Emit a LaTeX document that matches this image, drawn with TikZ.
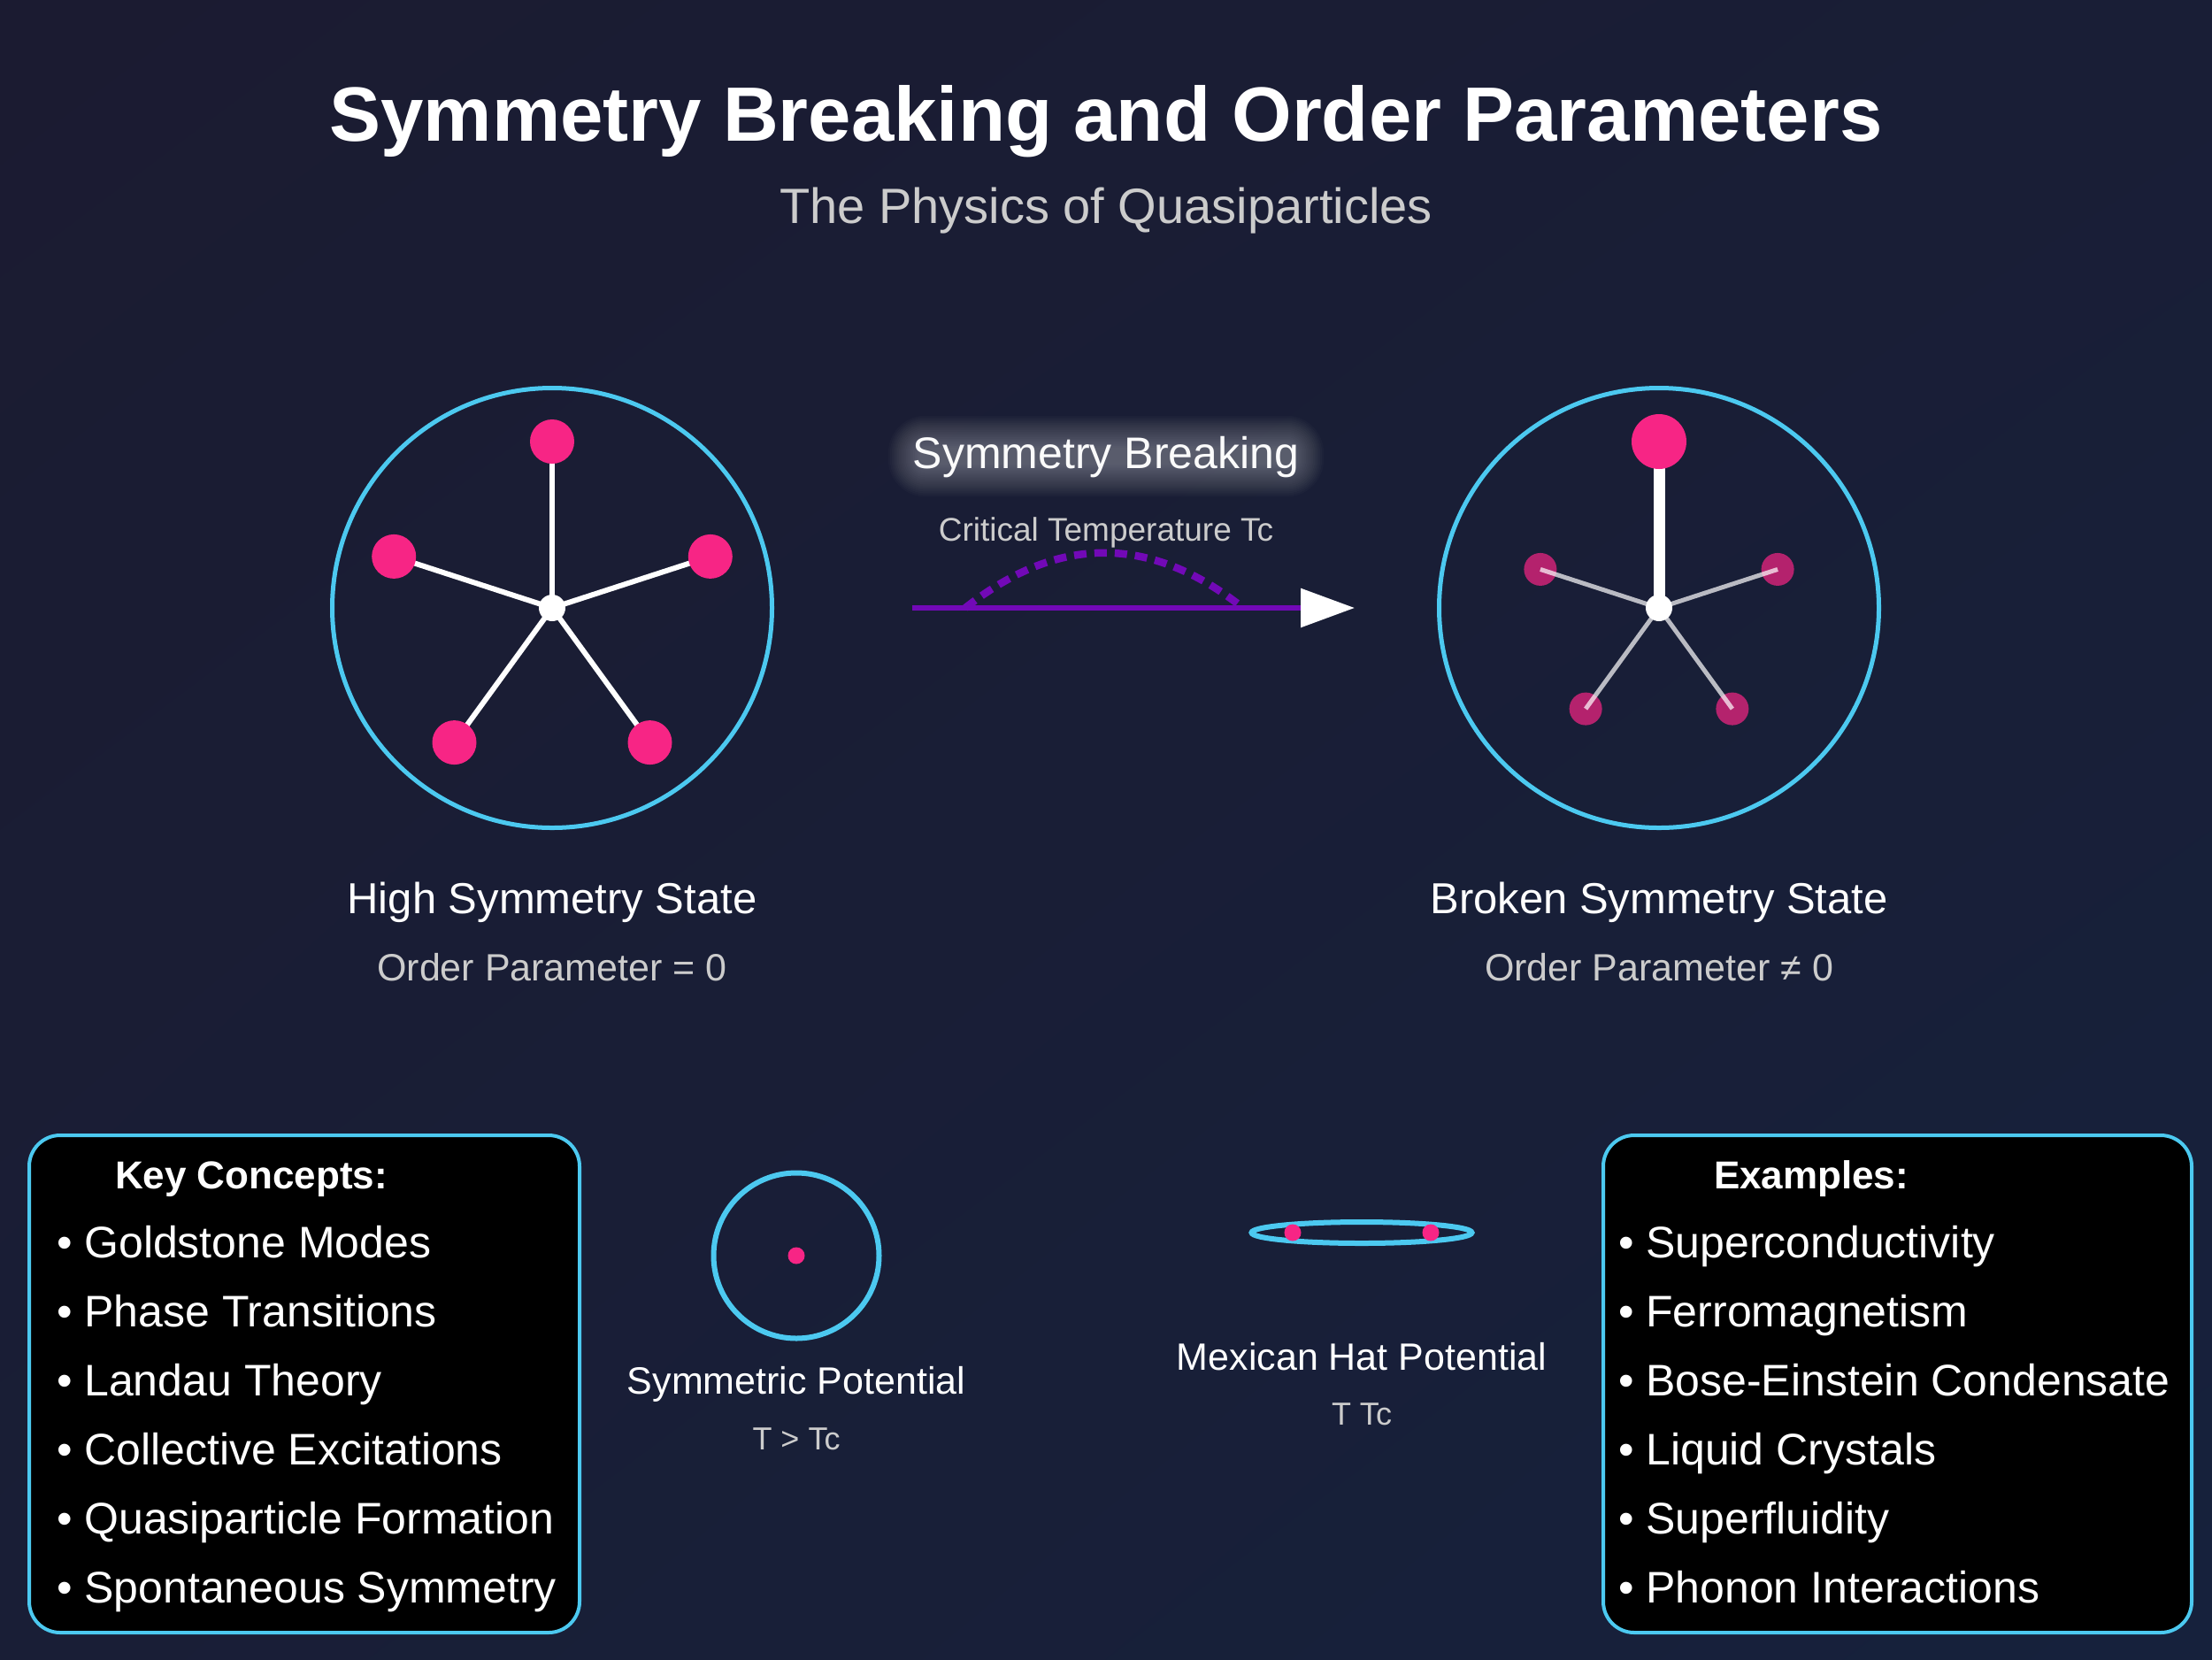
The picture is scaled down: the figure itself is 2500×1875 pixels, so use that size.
\documentclass[tikz,border=0pt]{standalone}
\usepackage{fontspec}
\setmainfont{Liberation Sans}
\usetikzlibrary{arrows.meta,shapes.geometric,shadings}
\definecolor{bgA}{HTML}{1B1B31}
\definecolor{bgM}{HTML}{191E36}
\definecolor{bgB}{HTML}{16213C}
\definecolor{cyanc}{HTML}{4CC9F0}
\definecolor{pinkc}{HTML}{F72585}
\definecolor{purp}{HTML}{7209B7}
\definecolor{lgray}{HTML}{CCCCCC}
\pgfdeclarelayer{bg}
\pgfdeclarelayer{back}
\pgfdeclarelayer{front}
\pgfsetlayers{bg,back,main,front}
\newcommand\fsz[1]{\fontsize{#1}{#1}\selectfont}
\begin{document}
\begin{tikzpicture}[x=1pt,y=-1pt,
  txt/.style={inner sep=0pt, outer sep=0pt, anchor=base, text=white},
  ring/.style={circle, draw=cyanc, line width=5pt, inner sep=0pt},
  pdot/.style={circle, fill=pinkc, inner sep=0pt},
  wdot/.style={circle, fill=white, inner sep=0pt, minimum size=30pt},
  spoke/.style={white, line width=6pt},
  tspoke/.style={white, opacity=0.7, line width=5pt},
  infobox/.style={draw=cyanc, line width=4pt, fill=black, rounded corners=35pt, inner sep=0pt, anchor=north west},
  item/.style={txt, anchor=base west, font=\fsz{50}},
  head/.style={txt, anchor=base west, font=\bfseries\fsz{44}},
  lab/.style={txt, font=\fsz{49}},
  sublab/.style={txt, text=lgray, font=\fsz{43}},
  slab/.style={txt, font=\fsz{43}},
  ssub/.style={txt, text=lgray, font=\fsz{36}}
]
\useasboundingbox (0,0) rectangle (2500,1875);
\begin{pgfonlayer}{bg}
\shade[upper left=bgA, upper right=bgM, lower left=bgM, lower right=bgB] (0,0) rectangle (2500,1875);
\end{pgfonlayer}

% titles
\node[txt, font=\bfseries\fsz{87}] (title) at (1250,159) {Symmetry Breaking and Order Parameters};
\node[txt, text=lgray, font=\fsz{56}] (subtitle) at (1250,252) {The Physics of Quasiparticles};

% left high-symmetry state
\node[ring, minimum size=497pt] (lring) at (624,687) {};
\begin{scope}[shift={(624,687)}]
\node[pdot, minimum size=50pt] (l1) at (270:188) {};
\node[pdot, minimum size=50pt] (l2) at (342:188) {};
\node[pdot, minimum size=50pt] (l3) at (54:188) {};
\node[pdot, minimum size=50pt] (l4) at (126:188) {};
\node[pdot, minimum size=50pt] (l5) at (198:188) {};
\end{scope}
\node[wdot] (lc) at (624,687) {};
\begin{pgfonlayer}{back}
\foreach \i in {1,...,5} \draw[spoke] (lc.center) -- (l\i.center);
\end{pgfonlayer}
\node[lab] (lname) at (624,1032) {High Symmetry State};
\node[sublab] (lorder) at (624,1108) {Order Parameter = 0};

% right broken-symmetry state
\node[ring, minimum size=497pt] (rring) at (1875,687) {};
\begin{pgfonlayer}{back}
\begin{scope}[shift={(1875,687)}]
\node[pdot, opacity=0.7, minimum size=37pt] (r2) at (342:141) {};
\node[pdot, opacity=0.7, minimum size=37pt] (r3) at (54:141) {};
\node[pdot, opacity=0.7, minimum size=37pt] (r4) at (126:141) {};
\node[pdot, opacity=0.7, minimum size=37pt] (r5) at (198:141) {};
\end{scope}
\end{pgfonlayer}
\begin{pgfonlayer}{front}
\node[pdot, minimum size=62pt] (r1) at (1875,499) {};
\node[wdot] (rc) at (1875,687) {};
\end{pgfonlayer}
\draw[white, line width=13pt] (rc.center) -- (r1.center);
\foreach \i in {2,...,5} \draw[tspoke] (rc.center) -- (r\i.center);
\node[lab] (rname) at (1875,1032) {Broken Symmetry State};
\node[sublab] (rorder) at (1875,1108) {Order Parameter ≠ 0};

% transition: glowing label
\node[txt, text=white!93!lgray, font=\fsz{50}] (sbreak) at (1250,529) {Symmetry Breaking};
\begin{pgfonlayer}{back}
\foreach \s in {-8,-6,...,28} {
  \fill[white, opacity=0.02, rounded corners={14pt+\s*1pt}]
    ([xshift=-\s*1pt, yshift=-\s*1pt+6pt]sbreak.south west) rectangle ([xshift=\s*1pt, yshift=\s*1pt-5pt]sbreak.north east);
}
\end{pgfonlayer}
\node[txt, text=lgray, font=\fsz{37}] (tcrit) at (1250,611) {Critical Temperature Tc};
\coordinate (as) at (1031,687);
\coordinate (ae) at (1531,687);
\draw[purp, line width=6pt, -{Triangle[length=61pt,width=43pt,color=white,fill=white]}] (as) -- (ae);
\coordinate (dA) at (1091,687);
\coordinate (dB) at (1405,687);
\coordinate (c1) at (1196,604);
\coordinate (c2) at (1300,604);
\draw[purp, line width=8.5pt, dash pattern=on 14pt off 9pt] (dA) .. controls (c1) and (c2) .. (dB);

% key concepts box
\node[infobox, minimum width=622pt, minimum height=562pt] (kbox) at (31,1281) {};
\node[head] (khead) at (130,1343) {Key Concepts:};
\foreach \t [count=\i] in {Goldstone Modes, Phase Transitions, Landau Theory, Collective Excitations, Quasiparticle Formation, Spontaneous Symmetry}
  \node[item] (k\i) at (64,{1421+78*(\i-1)}) {• \t};

% examples box
\node[infobox, minimum width=665pt, minimum height=562pt] (ebox) at (1810,1281) {};
\node[head] (ehead) at (1937,1343) {Examples:};
\foreach \t [count=\i] in {Superconductivity, Ferromagnetism, Bose-Einstein Condensate, Liquid Crystals, Superfluidity, Phonon Interactions}
  \node[item] (e\i) at (1829,{1421+78*(\i-1)}) {• \t};

% symmetric potential
\node[ring, line width=6pt, minimum size=187pt] (spot) at (900,1419) {};
\node[pdot, minimum size=19pt] (sdot) at (900,1419) {};
\node[slab] (sname) at (900,1575) {Symmetric Potential};
\node[ssub] (scond) at (900,1638) {T > Tc};

% mexican hat potential
\node[ellipse, draw=cyanc, line width=6pt, minimum width=249pt, minimum height=24pt, inner sep=0pt] (hat) at (1539,1393) {};
\node[pdot, minimum size=19pt] (hd1) at (1461,1393) {};
\node[pdot, minimum size=19pt] (hd2) at (1617,1393) {};
\node[slab] (hname) at (1539,1548) {Mexican Hat Potential};
\node[ssub] (hcond) at (1539,1610) {T Tc};
\end{tikzpicture}
\end{document}
